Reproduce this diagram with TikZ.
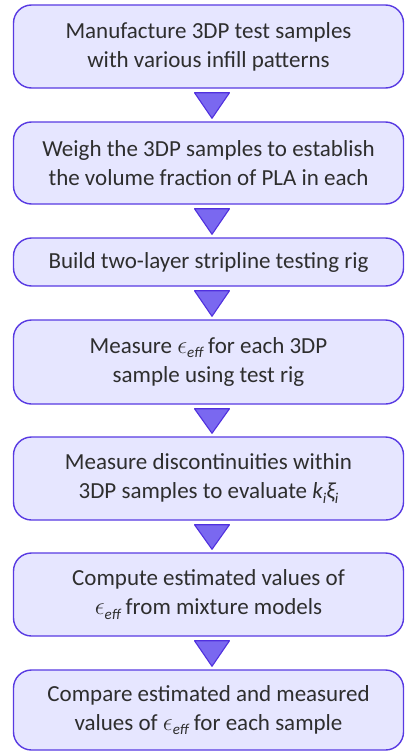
\documentclass[tikz,border=0pt]{standalone}
\usepackage{fontspec}
\setmainfont{Carlito}
\usetikzlibrary{calc}
\definecolor{boxfill}{RGB}{230,230,255}
\definecolor{boxline}{RGB}{88,58,226}
\definecolor{trifill}{RGB}{122,104,240}
\definecolor{triline}{RGB}{80,48,222}
\newcommand{\subit}[1]{\raisebox{-0.4ex}{\fontsize{15}{15}\selectfont\itshape #1}}
\newcommand{\eeff}{\ensuremath{\epsilon}\subit{eff}}
\tikzset{
  stepbox/.style={draw=boxline, line width=1.4pt, fill=boxfill, rounded corners=18pt,
    minimum width=390pt, align=center, font=\fontsize{23}{29}\selectfont, text=black!82,
    inner sep=0pt},
  arrowtri/.style={draw=triline, fill=trifill, line width=1.1pt, line join=round}
}
\begin{document}
\begin{tikzpicture}[x=1pt,y=-1pt]
\useasboundingbox (0,0) rectangle (407,752);
\node[stepbox, minimum height=83pt] (b1) at (208.5,46.5) {Manufacture 3DP test samples\\with various infill patterns};
\node[stepbox, minimum height=82pt] (b2) at (208.5,163) {Weigh the 3DP samples to establish\\the volume fraction of PLA in each};
\node[stepbox, minimum height=48pt] (b3) at (208.5,262) {Build two-layer stripline testing rig};
\node[stepbox, minimum height=84pt] (b4) at (208.5,362) {Measure \eeff\ for each 3DP\\sample using test rig};
\node[stepbox, minimum height=83pt] (b5) at (208.5,478.5) {Measure discontinuities within\\3DP samples to evaluate {\itshape k}\subit{i}{\itshape ξ}\subit{i}};
\node[stepbox, minimum height=83pt] (b6) at (208.5,594.5) {Compute estimated values of\\\eeff\ from mixture models};
\node[stepbox, minimum height=80pt] (b7) at (208.5,710) {Compare estimated and measured\\values of \eeff\ for each sample};
% downward triangles between consecutive steps
\foreach \a/\b in {b1/b2,b2/b3,b3/b4,b4/b5,b5/b6,b6/b7}{
  \draw[arrowtri] ($(\a.south)+(-14,4)$) -- ($(\a.south)+(21,4)$) -- ($(\b.north)+(3.5,-3)$) -- cycle;
}
\end{tikzpicture}
\end{document}
